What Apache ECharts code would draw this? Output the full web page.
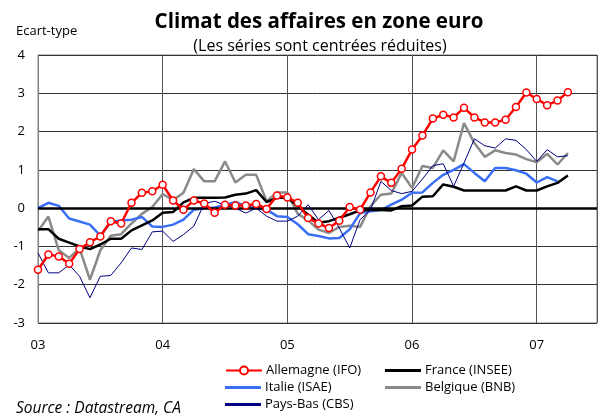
<!DOCTYPE html>
<html lang="fr">
<head>
<meta charset="UTF-8">
<title>Climat des affaires en zone euro</title>
<script src="https://cdn.jsdelivr.net/npm/echarts@6.0.0/dist/echarts.min.js"></script>
<style>
  html, body { margin: 0; padding: 0; background: #fff; }
  #main { width: 598px; height: 416px; }
</style>
</head>
<body>
<div id="main"></div>
<script>
// une valeur par mois, à partir de janvier 2003
var yearLabels = ['03', '04', '05', '06', '07'];

var allemagne = [-1.61, -1.21, -1.26, -1.45, -1.07, -0.89, -0.74, -0.34, -0.40, 0.14, 0.40, 0.44,
  0.61, 0.20, -0.04, 0.20, 0.12, -0.12, 0.09, 0.07, 0.07, 0.11, -0.02, 0.33,
  0.28, 0.14, -0.26, -0.40, -0.52, -0.33, 0.03, -0.04, 0.41, 0.83, 0.66, 1.03,
  1.53, 1.90, 2.34, 2.44, 2.37, 2.62, 2.37, 2.24, 2.24, 2.31, 2.64, 3.02,
  2.85, 2.69, 2.81, 3.03];

var france = [-0.55, -0.55, -0.80, -0.90, -1.00, -1.07, -0.95, -0.80, -0.80, -0.58, -0.45, -0.32,
  -0.12, -0.10, 0.15, 0.27, 0.27, 0.27, 0.28, 0.35, 0.38, 0.47, 0.16, 0.27,
  0.27, 0.05, -0.17, -0.38, -0.34, -0.25, -0.16, -0.06, -0.05, -0.05, -0.06, 0.05,
  0.07, 0.30, 0.31, 0.62, 0.56, 0.46, 0.46, 0.46, 0.46, 0.46, 0.57, 0.46,
  0.46, 0.57, 0.66, 0.85];

var italie = [0.0, 0.14, 0.06, -0.27, -0.35, -0.43, -0.72, -0.36, -0.32, -0.30, -0.23, -0.48,
  -0.49, -0.43, -0.30, -0.04, 0.0, 0.02, 0.08, 0.16, 0.05, 0.0, -0.04, -0.21,
  -0.23, -0.42, -0.68, -0.73, -0.79, -0.78, -0.55, -0.13, -0.08, -0.05, 0.09, 0.22,
  0.40, 0.41, 0.66, 0.87, 1.00, 1.15, 0.92, 0.70, 1.05, 1.05, 0.99, 0.90,
  0.67, 0.81, 0.70];

var belgique = [-0.60, -0.22, -1.10, -1.30, -1.05, -1.87, -1.10, -0.72, -0.68, -0.40, -0.15, 0.03,
  0.37, 0.21, 0.40, 1.02, 0.70, 0.70, 1.22, 0.67, 0.87, 0.87, 0.18, 0.41,
  0.41, -0.15, -0.32, -0.56, -0.65, -0.49, -0.46, -0.49, 0.05, 0.35, 0.38, 0.92,
  0.53, 1.10, 1.05, 1.51, 1.22, 2.22, 1.70, 1.34, 1.51, 1.44, 1.40, 1.28,
  1.20, 1.42, 1.14, 1.44];

var paysBas = [-1.17, -1.69, -1.69, -1.48, -1.78, -2.34, -1.78, -1.76, -1.43, -1.04, -1.08, -0.62,
  -0.60, -0.87, -0.69, -0.47, 0.12, 0.18, 0.08, 0.0, -0.13, 0.0, -0.21, -0.34,
  -0.34, -0.21, 0.09, -0.30, -0.06, -0.52, -1.04, -0.30, -0.05, 0.70, 0.46, 0.38,
  0.44, 0.76, 1.11, 1.16, 0.57, 1.18, 1.81, 1.63, 1.57, 1.81, 1.77, 1.53,
  1.22, 1.53, 1.34, 1.37];

function toPoints(arr) {
  return arr.map(function (v, i) { return [i, v]; });
}

var font = 'Open Sans';
var chart = echarts.init(document.getElementById('main'));

function legendAt(name, left, top, icon) {
  var l = {
    data: [name],
    left: left,
    top: top,
    itemWidth: 36,
    itemHeight: 10,
    itemGap: 0,
    padding: 0,
    selectedMode: false,
    textStyle: { fontFamily: font, fontSize: 13, color: '#000', padding: [0, 0, 0, -1] }
  };
  if (icon) {
    l.icon = icon;
    l.itemHeight = 3;
  }
  return l;
}

function lineSerie(name, data, color, width, z) {
  return {
    name: name,
    type: 'line',
    data: toPoints(data),
    symbol: 'none',
    lineStyle: { color: color, width: width },
    itemStyle: { color: color },
    z: z,
    silent: true,
    animation: false
  };
}

var france_s = lineSerie('France (INSEE)', france, '#000000', 2.5, 4);
france_s.markLine = {
  silent: true,
  symbol: ['none', 'none'],
  label: { show: false },
  lineStyle: { color: '#000', width: 2.5, type: 'solid' },
  data: [{ yAxis: 0 }],
  animation: false
};

var option = {
  backgroundColor: '#fff',
  animation: false,
  title: [
    {
      text: 'Climat des affaires en zone euro',
      left: 314, top: 7, textAlign: 'center',
      textStyle: { fontFamily: font, fontSize: 20.5, fontWeight: 'bold', color: '#000' }
    },
    {
      text: '(Les séries sont centrées réduites)',
      left: 315, top: 33, textAlign: 'center',
      textStyle: { fontFamily: font, fontSize: 16, fontWeight: 'normal', color: '#000' }
    },
    {
      text: 'Ecart-type',
      left: 11, top: 20,
      textStyle: { fontFamily: font, fontSize: 13, fontWeight: 'normal', color: '#000' }
    },
    {
      text: 'Source : Datastream, CA',
      left: 11, top: 396,
      textStyle: { fontFamily: font, fontSize: 15.5, fontWeight: 'normal', fontStyle: 'italic', color: '#000' }
    }
  ],
  legend: [
    legendAt('Allemagne (IFO)', 225, 364),
    legendAt('France (INSEE)', 385, 364, 'rect'),
    legendAt('Italie (ISAE)', 225, 381, 'rect'),
    legendAt('Belgique (BNB)', 385, 381, 'rect'),
    legendAt('Pays-Bas (CBS)', 225, 398, 'rect')
  ],
  grid: {
    left: 38, right: 1, top: 55, bottom: 93,
    show: true,
    borderColor: '#808080',
    borderWidth: 1
  },
  xAxis: {
    type: 'value',
    min: 0,
    max: 53.8,
    interval: 12,
    axisLine: { show: true, lineStyle: { color: '#808080', width: 1 } },
    axisTick: { show: false },
    axisLabel: {
      showMaxLabel: false,
      margin: 16,
      fontFamily: font, fontSize: 13, color: '#000',
      formatter: function (v) { return yearLabels[v / 12] || ''; }
    },
    splitLine: { show: true, lineStyle: { color: '#555', width: 1 } }
  },
  yAxis: {
    type: 'value',
    min: -3,
    max: 4,
    interval: 1,
    axisLine: { show: true, lineStyle: { color: '#808080', width: 1 } },
    axisTick: { show: false },
    axisLabel: { margin: 13, fontFamily: font, fontSize: 13, color: '#000' },
    splitLine: { show: true, lineStyle: { color: '#333', width: 1 } }
  },
  series: [
    lineSerie('Belgique (BNB)', belgique, '#8a8a8a', 2.5, 2),
    lineSerie('Italie (ISAE)', italie, '#3a6ff5', 2.5, 3),
    france_s,
    lineSerie('Pays-Bas (CBS)', paysBas, '#000080', 1, 5),
    {
      name: 'Allemagne (IFO)',
      type: 'line',
      data: toPoints(allemagne),
      symbol: 'circle',
      symbolSize: 7,
      showSymbol: true,
      lineStyle: { color: '#ff0000', width: 2.5 },
      itemStyle: { color: '#ffffff', borderColor: '#ff0000', borderWidth: 1.5 },
      z: 6,
      silent: true,
      animation: false
    }
  ]
};

chart.setOption(option);
</script>
</body>
</html>
